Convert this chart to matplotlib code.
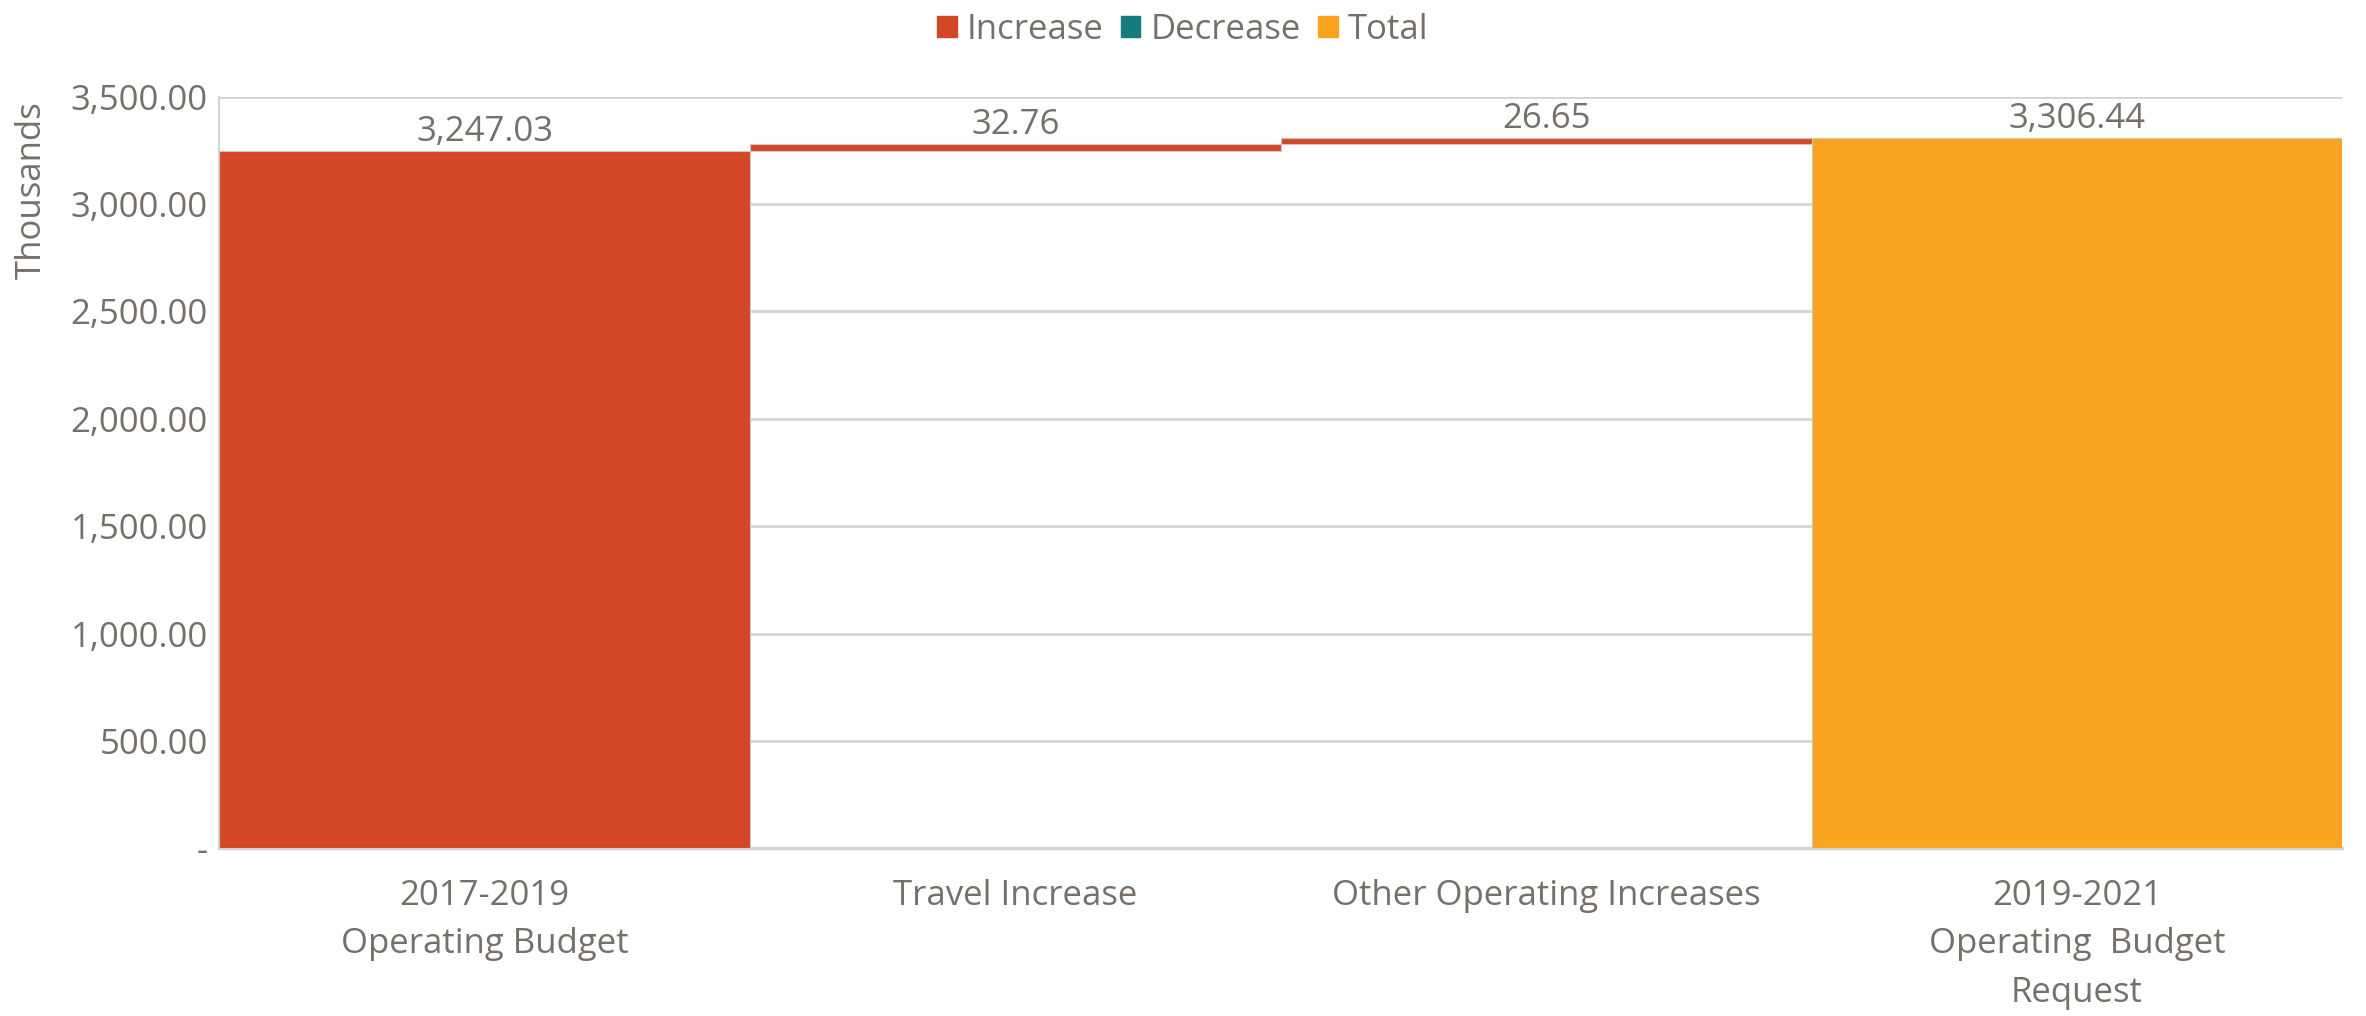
import matplotlib.pyplot as plt
from matplotlib.patches import Patch
from matplotlib.ticker import FuncFormatter

# Data
categories = ['2017-2019\nOperating Budget', 'Travel Increase',
              'Other Operating Increases', '2019-2021\nOperating  Budget\nRequest']
values = [3247.03, 32.76, 26.65, 3306.44]
kinds = ['total_start', 'increase', 'increase', 'total']
yticks = [0, 500, 1000, 1500, 2000, 2500, 3000, 3500]

red = '#D34727'
teal = '#167B7F'
orange = '#F9A31F'
txt = '#76706B'
grid = '#D4D4D4'
fs = 25

plt.rcParams['font.family'] = ['Open Sans', 'DejaVu Sans']

fig = plt.figure(figsize=(23.66, 10.16), dpi=100)
ax = fig.add_axes([0.0926, 0.165, 0.8974, 0.74])

# waterfall bottoms
bottoms = []
running = 0
for v, k in zip(values, kinds):
    if k == 'increase':
        bottoms.append(running)
        running += v
    else:
        bottoms.append(0)
        running = v if k == 'total_start' else running

colors = [red, red, red, orange]
x = range(len(categories))
ax.bar(x, values, bottom=bottoms, width=1.0, color=colors,
       edgecolor='#C8C8C8', linewidth=0.8, zorder=3)

for i, (v, b) in enumerate(zip(values, bottoms)):
    ax.text(i, b + v + 8, f'{v:,.2f}', ha='center', va='bottom',
            fontsize=fs, color=txt, zorder=4)

ax.set_xlim(-0.5, len(categories) - 0.5)
ax.set_ylim(0, 3500)
ax.set_yticks(yticks)
ax.yaxis.set_major_formatter(FuncFormatter(lambda v, p: '-' if v == 0 else f'{v:,.2f}'))
ax.set_xticks(list(x))
ax.set_xticklabels(categories, linespacing=1.55)
ax.tick_params(axis='both', length=0, labelsize=fs, colors=txt)
ax.tick_params(axis='x', pad=22)
ax.tick_params(axis='y', pad=8)
ax.yaxis.grid(True, color=grid, linewidth=2, zorder=0)
ax.set_axisbelow(True)

for s in ['top', 'right']:
    ax.spines[s].set_visible(False)
ax.spines['left'].set_color(grid)
ax.spines['left'].set_linewidth(1.5)
ax.spines['bottom'].set_color(grid)
ax.spines['bottom'].set_linewidth(2.5)

ax.set_ylabel('Thousands', fontsize=fs, color=txt)
ax.yaxis.set_label_coords(-0.08, 0.875)

handles = [Patch(color=red, label='Increase'), Patch(color=teal, label='Decrease'),
           Patch(color=orange, label='Total')]
fig.legend(handles=handles, loc='upper center', bbox_to_anchor=(0.5, 1.018), ncol=3,
           frameon=False, fontsize=fs, labelcolor=txt, handlelength=0.55,
           handleheight=0.55, handletextpad=0.3, columnspacing=0.5)

fig.savefig('out.png', dpi=100)
